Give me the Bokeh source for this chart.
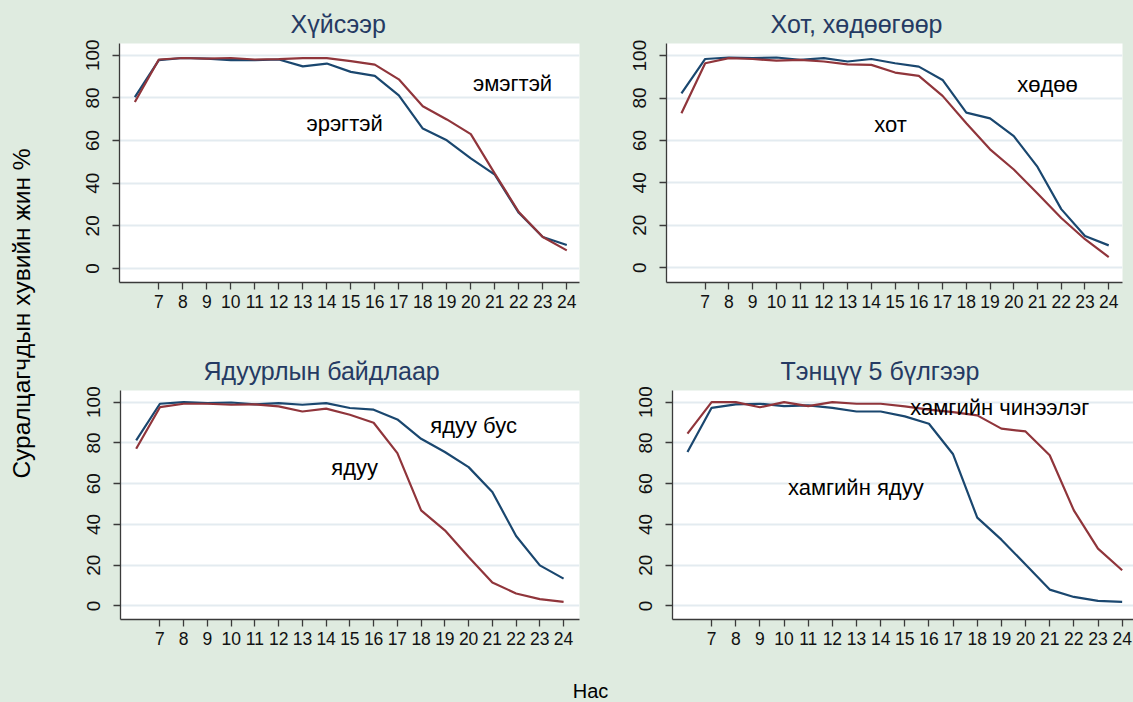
from bokeh.plotting import figure
from bokeh.layouts import row, column
from bokeh.models import Label, FixedTicker, Range1d
from bokeh.embed import file_html
from bokeh.resources import INLINE

# ---------------- data ----------------
ages = list(range(6, 25))
x_ticks = list(range(7, 25))
y_ticks = [0, 20, 40, 60, 80, 100]

titles = ["Хүйсээр", "Хот, хөдөөгөөр", "Ядуурлын байдлаар", "Тэнцүү 5 бүлгээр"]
y_title = "Суралцагчдын хувийн жин %"
x_title = "Нас"

# panel 1: by sex
male   = [80.4, 97.7, 98.7, 98.4, 97.7, 97.7, 98.0, 94.8, 96.1, 92.2, 90.3, 81.2, 65.6, 60.1, 51.6, 44.0, 26.1, 14.8, 11.0]
female = [78.1, 98.0, 98.7, 98.4, 98.7, 98.0, 98.2, 98.6, 98.6, 97.2, 95.6, 88.7, 76.1, 69.9, 63.0, 44.5, 26.5, 14.8, 8.5]
# panel 2: rural / urban
rural  = [82.2, 98.4, 99.1, 98.8, 99.1, 98.0, 98.8, 97.2, 98.4, 96.4, 94.8, 88.5, 73.1, 70.4, 62.0, 47.5, 27.6, 14.9, 10.5]
urban  = [72.8, 96.4, 98.8, 98.4, 97.6, 98.0, 97.2, 95.9, 95.6, 92.0, 90.4, 81.0, 68.1, 55.8, 46.3, 35.0, 23.4, 13.4, 5.0]
# panel 3: non-poor / poor
nonpoor = [81.2, 99.2, 100.0, 99.5, 99.8, 98.9, 99.5, 98.7, 99.5, 97.1, 96.3, 91.5, 82.0, 75.5, 68.1, 55.9, 34.3, 19.9, 13.4]
poor    = [77.1, 97.5, 99.2, 99.2, 98.7, 98.9, 97.9, 95.4, 96.8, 93.8, 89.9, 75.0, 46.9, 37.1, 24.0, 11.5, 6.1, 3.3, 2.0]
# panel 4: poorest / richest quintile
poorest = [75.5, 97.2, 98.9, 99.2, 98.0, 98.4, 97.2, 95.4, 95.4, 93.0, 89.4, 74.4, 43.3, 32.5, 20.3, 8.0, 4.4, 2.5, 2.0]
richest = [84.5, 100.0, 100.0, 97.5, 100.0, 98.0, 100.0, 99.2, 99.2, 97.9, 96.3, 95.1, 93.5, 87.0, 85.6, 73.9, 46.9, 28.1, 17.5]

# ---------------- style ----------------
BG = "#dfebe0"
BLUE = "#1a476f"
RED = "#90353b"
TITLE_C = "#253a63"
FONT = "Liberation Sans"


def make_panel(title, blue, red, lab_blue, lab_red, geom):
    (bl, fw, br, bt, fh, bb, xr, yr, toff, pos_blue, pos_red) = geom
    p = figure(frame_width=fw, frame_height=fh,
               min_border_left=bl, min_border_right=br,
               min_border_top=bt, min_border_bottom=bb,
               x_range=Range1d(*xr), y_range=Range1d(*yr),
               toolbar_location=None, output_backend="svg")
    p.title.text = title
    p.title.align = "left"
    p.title.offset = toff
    p.title.standoff = 12
    p.title.text_font = FONT
    p.title.text_font_size = "25px"
    p.title.text_font_style = "normal"
    p.title.text_color = TITLE_C
    p.background_fill_color = "white"
    p.border_fill_color = BG
    p.outline_line_color = None
    p.xgrid.visible = False
    p.ygrid.ticker = FixedTicker(ticks=y_ticks)
    p.ygrid.grid_line_color = "#e3ebf0"
    p.ygrid.grid_line_width = 2
    p.xaxis.ticker = FixedTicker(ticks=x_ticks)
    p.yaxis.ticker = FixedTicker(ticks=y_ticks)
    p.yaxis.major_label_orientation = "vertical"
    for ax in (p.xaxis[0], p.yaxis[0]):
        ax.axis_line_color = "#3a3a3a"
        ax.axis_line_width = 1.3
        ax.major_tick_line_color = "#3a3a3a"
        ax.major_tick_line_width = 1.3
        ax.major_tick_out = 7
        ax.major_tick_in = 0
        ax.minor_tick_line_color = None
        ax.major_label_text_font = FONT
        ax.major_label_text_color = "#111111"
    p.xaxis.major_label_text_font_size = "17.5px"
    p.yaxis.major_label_text_font_size = "19px"
    p.xaxis.major_label_standoff = 5
    p.yaxis.major_label_standoff = 13

    p.line(ages, blue, line_color=BLUE, line_width=2.2)
    p.line(ages, red, line_color=RED, line_width=2.2)

    for txt, pos in ((lab_blue, pos_blue), (lab_red, pos_red)):
        p.add_layout(Label(x=pos[0], y=pos[1], text=txt, text_font=FONT,
                           text_font_size="22px", text_color="black",
                           text_align="center", text_baseline="middle"))
    return p


g1 = (74, 460, 11, 43, 239, 58, (5.36, 24.53), (-6.56, 105.5), 171, (14.74, 68.0), (21.74, 86.7))
g2 = (76, 456, 11, 43, 239, 58, (5.37, 24.58), (-7.0, 105.7), 104, (21.42, 86.6), (14.81, 67.7))
g3 = (75, 459, 11, 50, 229, 31, (5.34, 24.67), (-6.67, 105.7), 83, (20.21, 88.6), (15.2, 67.8))
g4 = (82, 461, 0, 50, 229, 31, (5.38, 24.47), (-6.67, 105.7), 108, (12.97, 58.3), (18.93, 97.5))

p1 = make_panel(titles[0], male, female, "эрэгтэй", "эмэгтэй", g1)
p2 = make_panel(titles[1], rural, urban, "хөдөө", "хот", g2)
p3 = make_panel(titles[2], nonpoor, poor, "ядуу бус", "ядуу", g3)
p4 = make_panel(titles[3], poorest, richest, "хамгийн ядуу", "хамгийн чинээлэг", g4)


def blank(w, h):
    f = figure(frame_width=w, frame_height=h, min_border=0,
               x_range=Range1d(0, w), y_range=Range1d(0, h),
               toolbar_location=None, output_backend="svg")
    f.axis.visible = False
    f.grid.visible = False
    f.outline_line_color = None
    f.background_fill_color = BG
    f.border_fill_color = BG
    return f


ylab = blank(45, 702)
ylab.add_layout(Label(x=21, y=702 - 313, text=y_title, angle=1.5708,
                      angle_units="rad", text_font=FONT, text_font_size="24.5px",
                      text_color="black", text_align="center", text_baseline="middle"))
xlab = blank(1088, 52)
xlab.add_layout(Label(x=545, y=12, text=x_title, text_font=FONT,
                      text_font_size="20px", text_color="black",
                      text_align="center", text_baseline="middle"))

root = row(ylab, column(row(p1, p2), row(p3, p4), xlab))

html = file_html(root, INLINE)
html = html.replace("</head>", "<style>html,body{margin:0 !important;padding:0;background:%s;overflow:hidden}</style></head>" % BG, 1)
open("out.html", "w").write(html)
